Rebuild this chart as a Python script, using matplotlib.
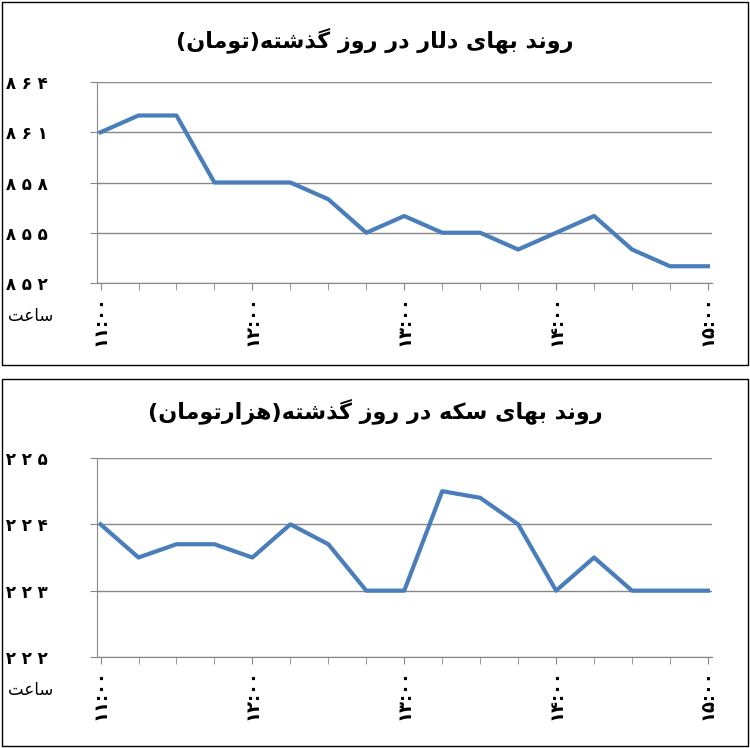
import matplotlib.pyplot as plt
from matplotlib.patches import Rectangle

# mini shaper for the Persian letters used here: (isolated, final, initial, medial)
FORMS = {
    'ا': (0xFE8D, 0xFE8E, None, None), 'ب': (0xFE8F, 0xFE90, 0xFE91, 0xFE92),
    'ت': (0xFE95, 0xFE96, 0xFE97, 0xFE98), 'د': (0xFEA9, 0xFEAA, None, None),
    'ذ': (0xFEAB, 0xFEAC, None, None), 'ر': (0xFEAD, 0xFEAE, None, None),
    'ز': (0xFEAF, 0xFEB0, None, None), 'س': (0xFEB1, 0xFEB2, 0xFEB3, 0xFEB4),
    'ش': (0xFEB5, 0xFEB6, 0xFEB7, 0xFEB8), 'ع': (0xFEC9, 0xFECA, 0xFECB, 0xFECC),
    'ل': (0xFEDD, 0xFEDE, 0xFEDF, 0xFEE0), 'م': (0xFEE1, 0xFEE2, 0xFEE3, 0xFEE4),
    'ن': (0xFEE5, 0xFEE6, 0xFEE7, 0xFEE8), 'ه': (0xFEE9, 0xFEEA, 0xFEEB, 0xFEEC),
    'و': (0xFEED, 0xFEEE, None, None), 'ی': (0xFBFC, 0xFBFD, 0xFBFE, 0xFBFF),
    'ک': (0xFB8E, 0xFB8F, 0xFB90, 0xFB91), 'گ': (0xFB92, 0xFB93, 0xFB94, 0xFB95),
}


def shape(s):
    out = []
    for i, ch in enumerate(s):
        if ch not in FORMS:
            out.append({'(': ')', ')': '('}.get(ch, ch))
            continue
        prev = s[i - 1] if i > 0 else ''
        nxt = s[i + 1] if i + 1 < len(s) else ''
        joins_prev = prev in FORMS and FORMS[prev][2] is not None
        joins_next = nxt in FORMS and FORMS[ch][2] is not None
        iso, fin, ini, med = FORMS[ch]
        if joins_prev and joins_next:
            c = med
        elif joins_prev:
            c = fin
        elif joins_next:
            c = ini
        else:
            c = iso
        out.append(chr(c))
    return ''.join(reversed(out))


def fa(n):
    return str(n).translate(str.maketrans('0123456789', '۰۱۲۳۴۵۶۷۸۹'))


plt.rcParams['font.family'] = ['DejaVu Sans']

hour_labels = ['11:00', '12:00', '13:00', '14:00', '15:00']
dollar = [3861, 3862, 3862, 3858, 3858, 3858, 3857, 3855, 3856, 3855, 3855,
          3854, 3855, 3856, 3854, 3853, 3853]
coin = [1224, 1223.5, 1223.7, 1223.7, 1223.5, 1224, 1223.7, 1223, 1223,
        1224.5, 1224.4, 1224, 1223, 1223.5, 1223, 1223, 1223]
dollar_ticks = [3852, 3855, 3858, 3861, 3864]
coin_ticks = [1222, 1223, 1224, 1225]
title_top = 'روند بهای دلار در روز گذشته(تومان)'
title_bot = 'روند بهای سکه در روز گذشته(هزارتومان)'

fig = plt.figure(figsize=(7.5, 7.48), dpi=100)
for y0, h in [(1 - 365 / 748, 363 / 748), (1 - 746 / 748, 367 / 748)]:
    fig.patches.append(Rectangle((0.002, y0), 0.995, h, transform=fig.transFigure,
                                 fill=False, ec='black', lw=1))

panels = [
    (dollar, dollar_ticks, title_top, [0.129, 1 - 283 / 748, 0.82, 201 / 748], 40 / 748),
    (coin, coin_ticks, title_bot, [0.129, 1 - 657 / 748, 0.82, 199 / 748], 411 / 748),
]
for vals, yt, title, rect, ty in panels:
    ax = fig.add_axes(rect)
    x = list(range(len(vals)))
    ax.plot(x, vals, color='#4a7ebb', lw=3)
    ax.set_xlim(-0.1, len(vals) - 0.9)
    ax.set_ylim(yt[0], yt[-1])
    ax.set_yticks(yt)
    ax.set_yticklabels([' '.join(fa(v)) for v in yt], fontsize=12, fontweight='bold')
    ax.set_xticks(range(0, len(vals), 4))
    ax.set_xticklabels([fa(s) for s in hour_labels], rotation=90, fontsize=13,
                       fontweight='bold')
    ax.set_xticks(x, minor=True)
    ax.tick_params(axis='x', which='both', direction='out', length=5, color='#888888')
    ax.tick_params(axis='y', length=5, color='#888888', pad=30)
    ax.grid(axis='y', color='#888888', lw=1)
    for s in ['top', 'right']:
        ax.spines[s].set_visible(False)
    for s in ['left', 'bottom']:
        ax.spines[s].set_color('#888888')
    ax.text(-0.07, -0.19, shape('ساعت'), transform=ax.transAxes, ha='right', fontsize=12)
    fig.text(0.5, 1 - ty, shape(title), ha='center', va='center', fontsize=16, fontweight='bold')

fig.savefig('out.png', dpi=100)
